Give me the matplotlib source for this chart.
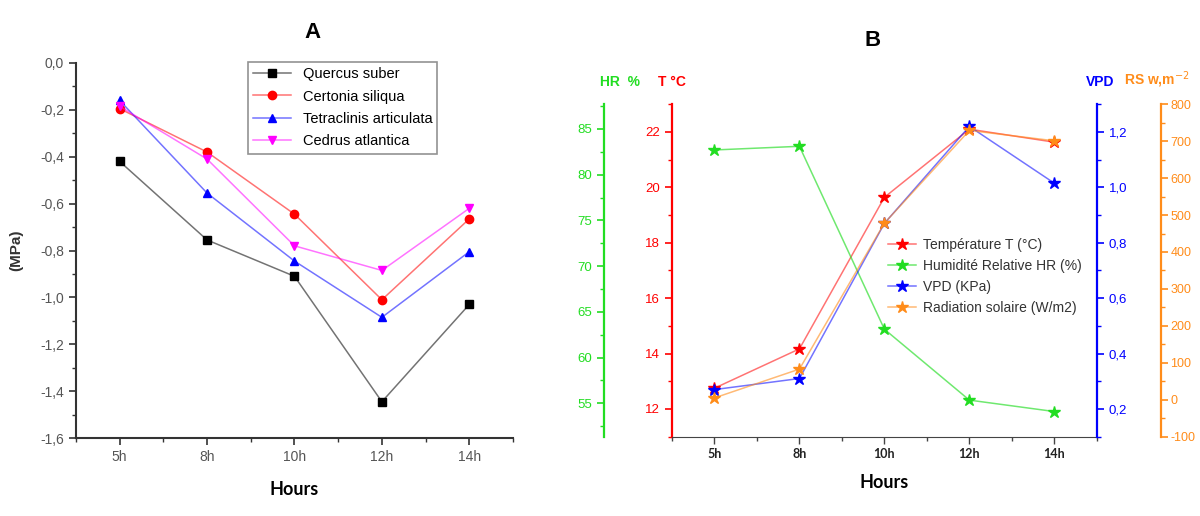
import matplotlib.pyplot as plt
from matplotlib.colors import to_rgba
from matplotlib.ticker import MultipleLocator, FuncFormatter

# Panel A - water potential (MPa)
hours = ["5h", "8h", "10h", "12h", "14h"]
species = ["Quercus suber", "Certonia siliqua", "Tetraclinis articulata", "Cedrus atlantica"]
quercus = [-0.42, -0.755, -0.91, -1.445, -1.03]
certonia = [-0.195, -0.38, -0.645, -1.01, -0.665]
tetraclinis = [-0.16, -0.555, -0.845, -1.085, -0.805]
cedrus = [-0.185, -0.41, -0.78, -0.885, -0.62]

# Panel B - climate
temperature = [12.75, 14.17, 19.64, 22.1, 21.63]
humidity = [82.7, 83.1, 63.1, 55.35, 54.1]
vpd = [0.27, 0.31, 0.87, 1.22, 1.015]
radiation = [5, 83, 478, 729, 701]

x = list(range(1, len(hours) + 1))
plt.rcParams['font.family'] = ['Liberation Sans', 'DejaVu Sans']
plt.rcParams['axes.unicode_minus'] = False

fig = plt.figure(figsize=(12, 5.16), dpi=100)

# ---------------- Panel A ----------------
axA = fig.add_axes([0.0633, 0.151, 0.3642, 0.727])
a_series = [(quercus, 'black', 's'), (certonia, 'red', 'o'),
            (tetraclinis, 'blue', '^'), (cedrus, 'magenta', 'v')]
for (vals, c, m), name in zip(a_series, species):
    axA.plot(x, vals, color=to_rgba(c, 0.55), lw=1.1, marker=m, ms=6,
             mfc=c, mec=c, label=name)
axA.set_xlim(0.5, 5.5)
axA.set_ylim(-1.6, 0.0)
axA.set_xticks(x)
axA.set_xticklabels(hours)
axA.xaxis.set_minor_locator(MultipleLocator(1, offset=0.5))
axA.yaxis.set_major_locator(MultipleLocator(0.2))
axA.yaxis.set_minor_locator(MultipleLocator(0.1))
axA.yaxis.set_major_formatter(FuncFormatter(lambda v, p: f"{v:.1f}".replace('.', ',').replace('-0,0', '0,0')))
for s in ['top', 'right']:
    axA.spines[s].set_visible(False)
for s in ['left', 'bottom']:
    axA.spines[s].set_linewidth(1.5)
    axA.spines[s].set_color('#333333')
axA.tick_params(which='major', direction='out', length=5, width=1.2, colors='#333333',
                labelcolor='#555555', labelsize=10)
axA.tick_params(which='minor', direction='out', length=3, width=1, colors='#333333')
axA.set_ylabel("(MPa)", fontsize=11, fontweight='bold', color='#333333', labelpad=12)
axA.set_xlabel("Hours", fontsize=13, fontweight='bold', family=['Lato', 'DejaVu Sans'], labelpad=12)
leg = axA.legend(loc='upper left', bbox_to_anchor=(248 / 1200, 1 - 62 / 516),
                 bbox_transform=fig.transFigure, fancybox=False, fontsize=10.5,
                 handlelength=2.6, borderpad=0.35, labelspacing=0.58, borderaxespad=0)
leg.get_frame().set_edgecolor('#777777')
leg.get_frame().set_linewidth(1.2)
fig.text(313 / 1200, 1 - 32 / 516, "A", fontsize=16, fontweight='bold', ha='center', va='center')

# ---------------- Panel B ----------------
axT = fig.add_axes([0.56, 0.1537, 0.354, 0.6443])
axH = axT.twinx()
axV = axT.twinx()
axR = axT.twinx()

green = '#22dd22'
orange = '#ff8c1a'

lT, = axT.plot(x, temperature, color=to_rgba('red', 0.55), lw=1.1, marker='*', ms=9,
               mfc='red', mec='red', label="Température T (°C)")
lH, = axH.plot(x, humidity, color=to_rgba(green, 0.65), lw=1.1, marker='*', ms=9,
               mfc=green, mec=green, label="Humidité Relative HR (%)")
lV, = axV.plot(x, vpd, color=to_rgba('blue', 0.55), lw=1.1, marker='*', ms=9,
               mfc='blue', mec='blue', label="VPD (KPa)")
lR, = axR.plot(x, radiation, color=to_rgba(orange, 0.6), lw=1.1, marker='*', ms=9,
               mfc=orange, mec=orange, label="Radiation solaire (W/m2)")

axT.set_xlim(0.5, 5.5)
axT.set_xticks(x)
axT.set_xticklabels(hours)
axT.xaxis.set_minor_locator(MultipleLocator(1, offset=0.5))
axT.tick_params(axis='x', which='major', direction='out', length=5, width=1, colors='#444444',
                labelcolor='#222222', labelsize=9)
for lab in axT.get_xticklabels():
    lab.set_family(['Lato', 'DejaVu Sans'])
    lab.set_fontweight('bold')
axT.tick_params(axis='x', which='minor', direction='out', length=3, width=1, colors='#444444')
axT.set_xlabel("Hours", fontsize=13, fontweight='bold', family=['Lato', 'DejaVu Sans'], labelpad=10)

axT.set_ylim(11, 23)
axT.yaxis.set_major_locator(MultipleLocator(2))
axT.yaxis.set_minor_locator(MultipleLocator(1))

axH.set_ylim(51.35, 87.7)
axH.yaxis.set_major_locator(MultipleLocator(5))
axH.yaxis.set_minor_locator(MultipleLocator(2.5))
axH.yaxis.set_ticks_position('left')
axH.spines['left'].set_position(('outward', 49))

axV.set_ylim(0.1, 1.3)
axV.yaxis.set_major_locator(MultipleLocator(0.2))
axV.yaxis.set_minor_locator(MultipleLocator(0.1))
axV.yaxis.set_major_formatter(FuncFormatter(lambda v, p: f"{v:.1f}".replace('.', ',')))

axR.set_ylim(-100, 800)
axR.yaxis.set_major_locator(MultipleLocator(100))
axR.yaxis.set_minor_locator(MultipleLocator(50))
axR.spines['right'].set_position(('outward', 46))

for ax in [axT, axH, axV, axR]:
    for s in ax.spines.values():
        s.set_visible(False)
axT.spines['bottom'].set_visible(True)
axT.spines['bottom'].set_color('#444444')

for ax, side, c in [(axT, 'left', 'red'), (axH, 'left', green),
                    (axV, 'right', 'blue'), (axR, 'right', orange)]:
    ax.spines[side].set_visible(True)
    ax.spines[side].set_color(c)
    ax.spines[side].set_linewidth(1.6)
    ax.tick_params(axis='y', which='major', direction='out', length=5, width=1.2,
                   colors=c, labelsize=9.5)
    ax.tick_params(axis='y', which='minor', direction='out', length=3, width=1, colors=c)
axR.tick_params(axis='y', which='major', labelsize=9, pad=2)

axT.legend(handles=[lT, lH, lV, lR], loc='upper left', bbox_to_anchor=(888 / 1200, 1 - 238 / 516),
           bbox_transform=fig.transFigure, frameon=False, fontsize=10, handlelength=2.0,
           handletextpad=0.5, labelspacing=0.5, borderaxespad=0, borderpad=0,
           labelcolor='#333333')

fig.text(620 / 1200, 1 - 82 / 516, "HR  %", color=green, fontsize=10, fontweight='bold', ha='center', va='center')
fig.text(672 / 1200, 1 - 82 / 516, "T °C", color='red', fontsize=10, fontweight='bold', ha='center', va='center')
fig.text(1100 / 1200, 1 - 82 / 516, "VPD", color='blue', fontsize=10, fontweight='bold', ha='center', va='center')
fig.text(1157 / 1200, 1 - 80 / 516, "RS w,m$^{-2}$", color=orange, fontsize=10, fontweight='bold', ha='center', va='center')
fig.text(873 / 1200, 1 - 40 / 516, "B", fontsize=16, fontweight='bold', ha='center', va='center')

fig.savefig("out.png", dpi=100)
